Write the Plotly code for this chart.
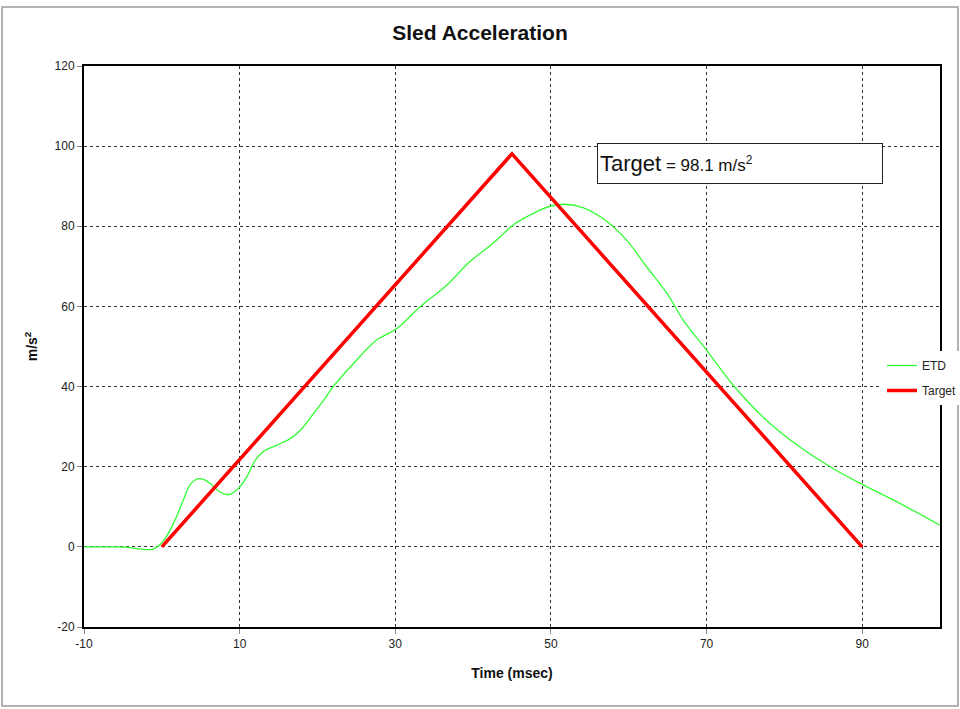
import plotly.graph_objects as go

etd_time = [-10, -6, -4.5, -3, -2.2, -1.2, -0.6, 0.2, 1.05, 2.0, 2.76, 3.6, 4.7, 5.5, 6.2, 7.5, 8.5,
            9.8, 10.9, 12.0, 13.0, 14.8, 16.5, 17.8, 19.5, 20.8, 22.0, 24.6, 27.6, 30.2, 33.2,
            36.6, 39.6, 42.6, 45.2, 47.8, 49.9, 51.8, 54.2, 57.2, 59.7, 62.3, 64.9, 67.0,
            70.0, 73.4, 77.7, 82.0, 86.3, 90.2, 94.9, 100]
etd_acc = [0, 0, -0.1, -0.5, -0.7, -0.6, 0, 1.5, 4.1, 8.0, 11.6, 15.4, 17.0, 16.7, 15.8, 13.7, 13.0,
           14.5, 17.4, 21.6, 23.7, 25.4, 27.0, 29.1, 33.3, 36.6, 39.9, 45.7, 51.6, 54.5, 59.9,
           65.3, 71.2, 75.8, 80.4, 83.3, 85.0, 85.5, 84.6, 81.2, 76.6, 69.9, 63.3, 56.6,
           49.1, 40.4, 31.6, 24.9, 19.5, 15.4, 10.8, 5.4]

# Target pulse
target_time = [0, 45, 90]
target_acc = [0, 98.1, 0]

x_ticks = [-10, 10, 30, 50, 70, 90]
x_tick_labels = ["-10", "10", "30", "50", "70", "90"]
y_ticks = [-20, 0, 20, 40, 60, 80, 100, 120]
y_tick_labels = ["-20", "0", "20", "40", "60", "80", "100", "120"]

FONT = "Liberation Sans"

fig = go.Figure()
fig.add_trace(go.Scatter(x=etd_time, y=etd_acc, mode="lines", name="ETD", legendgroup="a",
                         line=dict(color="#33ff33", width=1.3, shape="spline", smoothing=1.0)))
fig.add_trace(go.Scatter(x=target_time, y=target_acc, mode="lines", name="Target", legendgroup="b",
                         line=dict(color="#ff0000", width=3.5)))

L, R, T, B = 84, 940, 66, 627
W, H = 960, 709

def px(xp):
    return (xp - L) / (R - L)

def py(yp):
    return (B - yp) / (B - T)

fig.update_layout(
    autosize=False,
    width=W, height=H,
    margin=dict(l=L, r=W - R, t=T, b=H - B, autoexpand=False),
    paper_bgcolor="white", plot_bgcolor="white",
    font=dict(family=FONT, color="#222222", size=12),
    title=dict(text="<b>Sled Acceleration</b>", x=0.5, xanchor="center",
               y=1 - 33 / H, yanchor="middle",
               font=dict(family=FONT, size=21, color="#111111")),
    showlegend=True,
    legend=dict(x=px(882), xanchor="left", y=py(378), yanchor="middle",
                bgcolor="white", borderwidth=0, font=dict(size=12, color="#222222"),
                itemwidth=30, tracegroupgap=6),
    xaxis=dict(range=[-10, 100], tickvals=x_ticks, ticktext=x_tick_labels, showgrid=True,
               gridcolor="#333333", griddash="dot", gridwidth=1,
               showline=True, linecolor="black", linewidth=2, mirror=True,
               ticks="outside", ticklen=5, tickcolor="#888888",
               zeroline=False, tickfont=dict(size=12, color="#222222"),
               title=dict(text="<b>Time (msec)</b>", font=dict(size=14, color="#111111"), standoff=18)),
    yaxis=dict(range=[-20, 120], tickvals=y_ticks, ticktext=y_tick_labels, showgrid=True,
               gridcolor="#333333", griddash="dot", gridwidth=1,
               showline=True, linecolor="black", linewidth=2, mirror=True,
               ticks="outside", ticklen=5, tickcolor="#888888",
               zeroline=False, tickfont=dict(size=12, color="#222222"),
               title=dict(text="<b>m/s<sup>2</sup></b>", font=dict(size=14, color="#111111"), standoff=14)),
)

fig.add_annotation(
    xref="paper", yref="paper", x=px(597), y=py(163.5), xanchor="left", yanchor="middle",
    text="<span style='font-size:22px'>Target</span> = 98.1 m/s<sup>2</sup>",
    showarrow=False, align="left", width=280, height=35,
    bgcolor="white", bordercolor="#222222", borderwidth=1, borderpad=2,
    font=dict(family=FONT, size=17, color="#111111"),
)

# outer chart border
fig.add_shape(type="rect", xref="paper", yref="paper",
              x0=px(2), x1=px(958), y0=py(706), y1=py(7),
              line=dict(color="#999999", width=1.5), layer="below")

post = ("document.body.style.margin='0';document.body.style.padding='0';"
        "document.body.style.overflow='hidden';"
        "var gd=document.getElementById('{plot_id}');"
        "gd.style.width='960px';gd.style.height='709px';"
        "Plotly.relayout(gd,{autosize:false,width:960,height:709});")

fig.write_html("out.html", config={"responsive": False, "displayModeBar": False},
               post_script=post)
